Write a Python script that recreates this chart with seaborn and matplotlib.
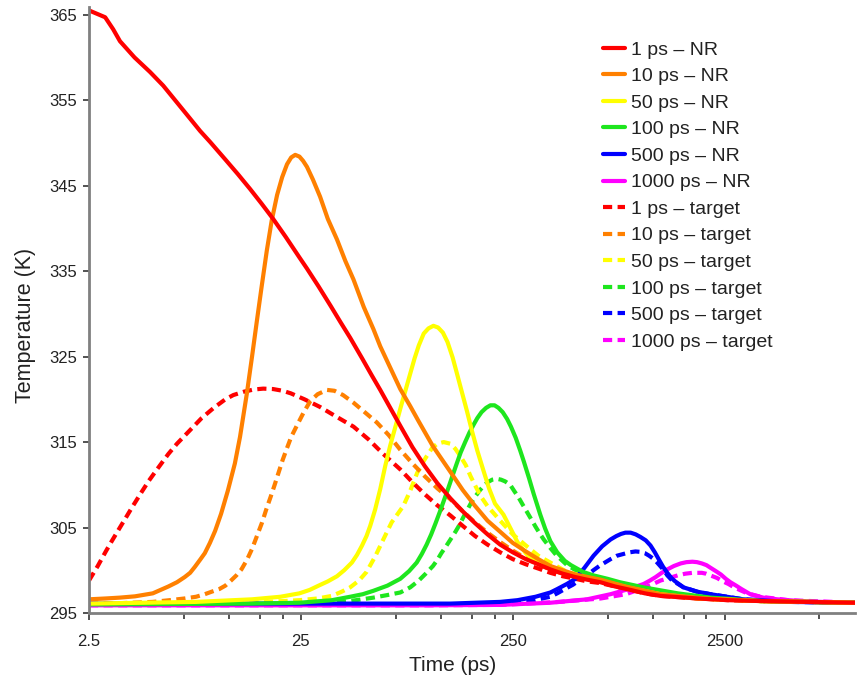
import matplotlib
matplotlib.use("Agg")
import matplotlib.pyplot as plt
from matplotlib.ticker import FixedLocator, NullFormatter
import seaborn as sns

# ---- pulse durations and series colours ----
pulses = ["1", "10", "50", "100", "500", "1000"]
colors = ["#ff0000", "#ff8000", "#ffff00", "#1ee61e", "#0000ff", "#ff00ff"]

# ---- NR temperature traces (time in ps, temperature in K) ----
t_nr_1 = [2.5, 2.98, 3.25, 3.5, 4.1, 4.85, 5.6, 6.37, 7.3, 8.36, 9.33, 10.96, 12.6, 14.4, 16.3, 18.5, 21.2,
          24.6, 26.7, 30.3, 34.6, 38.5, 42.7, 48.6, 54, 59.2, 66, 73.6, 84, 96, 110, 127, 145, 166, 190,
          218, 250, 288, 330, 376, 430, 494, 560, 648, 760, 899, 1050, 1245, 1870, 2600, 3690, 6000, 10300]
T_nr_1 = [365.5, 364.7, 363.3, 361.9, 360.0, 358.3, 356.7, 355.0, 353.2, 351.4, 350.1, 348.1, 346.35, 344.6,
          342.9, 341.1, 339.0, 336.6, 335.3, 333.2, 330.9, 329.0, 327.2, 324.8, 322.8, 321.1, 319.0, 316.9,
          314.4, 312.2, 310.2, 308.4, 306.9, 305.5, 304.2, 303.0, 302.1, 301.3, 300.7, 300.1, 299.6, 299.2,
          298.9, 298.6, 298.1, 297.7, 297.3, 297.0, 296.7, 296.5, 296.4, 296.3, 296.2]

t_nr_10 = [2.5, 3.0, 3.5, 4.12, 5.0, 5.92, 6.5, 7.07, 7.5, 7.9, 8.4, 8.8, 9.3, 9.84, 10.5, 11.3, 12.2, 12.9,
           13.9, 14.7, 15.5, 16.3, 17.26, 18.2, 19.3, 20.4, 21.5, 22.5, 23.5, 24.6, 25.6, 26.7, 28.5, 30.8,
           33.5, 37, 40.5, 44.3, 49.5, 55, 59.2, 66, 73.6, 82, 90, 105, 127, 145, 165, 190, 218, 250, 288,
           330, 376, 430, 494, 648, 850, 1245, 2000, 3690, 10300]
T_nr_10 = [296.6, 296.7, 296.8, 296.95, 297.3, 298.1, 298.6, 299.2, 299.7, 300.4, 301.3, 302.0, 303.2, 304.6,
           306.6, 309.3, 312.5, 315.6, 320.7, 325.0, 329.2, 333.1, 337.4, 340.9, 343.9, 346.0, 347.5, 348.3,
           348.6, 348.4, 347.9, 347.2, 345.7, 343.7, 341.1, 338.7, 336.2, 334.0, 330.8, 328.2, 326.2, 323.7,
           321.2, 319.2, 317.4, 314.5, 311.5, 309.4, 307.6, 305.8, 304.5, 303.2, 302.2, 301.3, 300.5, 300.0,
           299.5, 298.9, 298.1, 297.2, 296.7, 296.4, 296.2]

t_nr_50 = [2.5, 8, 14.7, 20, 24.6, 27.5, 30.3, 33.5, 37, 40, 43.5, 46, 48.6, 51, 53.1, 56, 59.2, 62.5, 66,
           70, 74, 78, 82, 86, 90, 95, 100, 105.5, 111, 117, 123, 130, 137, 145, 152, 160, 170, 181, 193,
           206, 226, 245, 263, 290, 330, 376, 430, 494, 560, 648, 899, 1245, 1870, 3690, 10300]
T_nr_50 = [296.1, 296.3, 296.6, 296.9, 297.3, 297.7, 298.2, 298.7, 299.3, 300.0, 300.9, 301.8, 302.9, 304.0,
           305.2, 307.1, 309.5, 312.2, 314.6, 316.9, 319.1, 321.1, 323.0, 324.8, 326.3, 327.7, 328.3, 328.6,
           328.4, 327.8, 326.7, 324.9, 322.8, 320.5, 318.6, 316.4, 314.0, 311.8, 309.6, 307.8, 306.5, 304.8,
           303.3, 301.9, 300.9, 300.2, 299.7, 299.3, 299.1, 298.8, 297.9, 297.2, 296.7, 296.4, 296.2]

t_nr_100 = [2.5, 14.7, 24.6, 35, 42.7, 49, 55, 64, 73.6, 81, 88, 93, 98, 103, 108, 113, 118, 124, 130,
            136, 142, 149, 156, 163, 170, 178, 187, 196, 205, 214, 224, 235, 245, 258, 271, 282, 298, 314,
            337, 355, 376, 405, 440, 470, 537, 601, 700, 800, 1035, 1500, 2140, 3690, 10300]
T_nr_100 = [296.0, 296.1, 296.2, 296.5, 296.9, 297.2, 297.6, 298.2, 299.0, 299.9, 300.9, 301.9, 303.0,
            304.2, 305.5, 306.8, 308.1, 309.6, 311.1, 312.5, 313.8, 315.0, 316.1, 317.0, 317.8, 318.5,
            319.0, 319.3, 319.3, 319.0, 318.5, 317.7, 316.8, 315.5, 314.0, 312.7, 310.8, 308.9, 306.5,
            304.9, 303.4, 302.1, 301.1, 300.6, 299.8, 299.4, 299.0, 298.6, 298.0, 297.3, 296.8, 296.4, 296.2]

t_nr_500 = [2.5, 50, 127, 218, 263, 320, 376, 405, 450, 494, 545, 601, 660, 723, 770, 810, 850, 899, 950,
            1000, 1060, 1116, 1170, 1220, 1280, 1340, 1400, 1460, 1598, 1850, 2140, 3060, 5000, 10300]
T_nr_500 = [296.1, 296.1, 296.1, 296.3, 296.5, 296.9, 297.4, 297.8, 298.4, 299.0, 300.3, 301.7, 302.8,
            303.6, 304.0, 304.25, 304.4, 304.4, 304.2, 303.9, 303.5, 302.9, 302.1, 301.3, 300.4, 299.7,
            299.1, 298.7, 298.0, 297.5, 297.2, 296.6, 296.3, 296.2]

t_nr_1000 = [2.5, 100, 218, 376, 560, 723, 880, 1037, 1110, 1180, 1260, 1340, 1440, 1550, 1650, 1760, 1850,
             1950, 2050, 2140, 2270, 2400, 2530, 2660, 2830, 3000, 3300, 3800, 4430, 6000, 10300]
T_nr_1000 = [295.9, 295.9, 295.95, 296.2, 296.6, 297.2, 297.8, 298.4, 298.8, 299.2, 299.7, 300.1, 300.5,
             300.8, 300.95, 301.0, 300.95, 300.8, 300.6, 300.3, 299.9, 299.5, 299.0, 298.6, 298.2, 297.8,
             297.2, 296.8, 296.6, 296.35, 296.2]

# ---- target temperature traces ----
t_tg_1 = [2.5, 2.75, 3.0, 3.2, 3.44, 3.7, 4.0, 4.44, 4.8, 5.2, 5.92, 6.5, 7.5, 8.5, 9.7, 11, 12, 13.5, 15,
          16.6, 18.5, 20.5, 22.4, 26, 30.8, 36, 44.3, 52.2, 61.2, 73.6, 84, 96, 110, 127, 145, 166, 190,
          218, 250, 288, 330, 376, 430, 494, 560, 648, 760, 899, 1050, 1245, 1870, 2600, 3690, 6000, 10300]
T_tg_1 = [298.8, 300.5, 302.2, 303.4, 304.7, 306.0, 307.4, 309.2, 310.5, 311.7, 313.6, 314.8, 316.4, 317.8,
          319.0, 320.0, 320.5, 320.9, 321.15, 321.25, 321.2, 321.0, 320.7, 320.0, 319.1, 318.1, 316.8,
          315.3, 313.6, 311.8, 310.3, 308.9, 307.6, 306.4, 305.2, 304.0, 303.0, 302.1, 301.3, 300.7, 300.2,
          299.7, 299.3, 299.0, 298.7, 298.5, 298.1, 297.7, 297.3, 297.0, 296.7, 296.5, 296.4, 296.3, 296.2]

t_tg_10 = [2.5, 3.5, 5.0, 6.0, 7.07, 8.0, 8.8, 9.5, 10.3, 11.0, 11.7, 12.4, 13.1, 13.9, 14.7, 15.5, 16.4,
           17.2, 18.0, 18.8, 19.6, 20.5, 21.5, 22.5, 23.9, 25.8, 27.7, 30.0, 33.2, 36, 39.5, 44.3, 50, 57,
           65, 73.6, 84, 96, 110, 127, 145, 166, 190, 218, 250, 288, 330, 376, 430, 494, 560, 648, 899,
           1245, 1870, 3690, 10300]
T_tg_10 = [296.1, 296.15, 296.3, 296.5, 296.7, 296.9, 297.2, 297.5, 297.8, 298.2, 298.8, 299.4, 300.1,
           301.2, 302.5, 304.0, 305.6, 307.2, 308.6, 310.0, 311.4, 312.9, 314.3, 315.6, 316.9, 318.5, 319.8,
           320.6, 321.1, 321.0, 320.5, 319.6, 318.5, 317.3, 315.8, 314.1, 312.5, 311.0, 309.6, 308.3, 306.9,
           305.6, 304.4, 303.3, 302.3, 301.4, 300.7, 300.1, 299.6, 299.3, 299.0, 298.7, 297.9, 297.1, 296.7,
           296.4, 296.2]

t_tg_50 = [2.5, 14.7, 24.6, 30, 35, 39, 42.7, 47, 51, 56, 61.2, 67, 76, 82, 88.5, 94, 98.4, 104, 110, 118,
           127, 134, 141, 150, 158, 167, 176, 190, 218, 250, 288, 330, 376, 451, 560, 648, 899, 1245, 1870,
           3690, 10300]
T_tg_50 = [296.0, 296.2, 296.5, 296.7, 297.0, 297.5, 298.0, 298.8, 299.8, 301.6, 303.6, 305.6, 307.5,
           309.3, 311.4, 312.6, 313.4, 314.3, 314.8, 315.0, 314.8, 314.2, 313.4, 312.3, 311.0, 309.8,
           308.7, 307.5, 305.8, 304.2, 302.9, 301.7, 300.9, 299.8, 299.2, 298.8, 297.9, 297.1, 296.7,
           296.4, 296.2]

t_tg_100 = [2.5, 30, 42.7, 55, 64, 73.6, 82, 90, 97, 105, 110, 115, 121, 127, 134, 140, 146, 152, 159, 166,
            174, 181, 190, 200, 210, 220, 230, 243, 255, 265, 278, 292, 305, 320, 335, 350, 376, 400, 451,
            520, 648, 899, 1245, 2140, 3690, 10300]
T_tg_100 = [296.0, 296.1, 296.4, 296.8, 297.1, 297.4, 298.0, 298.8, 299.6, 300.5, 301.2, 302.0, 302.8,
            303.6, 304.5, 305.3, 306.2, 307.0, 307.9, 308.6, 309.3, 309.8, 310.3, 310.6, 310.7, 310.6,
            310.4, 310.0, 309.2, 308.6, 307.7, 306.8, 306.0, 305.1, 304.3, 303.6, 302.6, 301.8, 300.6,
            299.7, 298.7, 297.8, 297.2, 296.7, 296.4, 296.2]

t_tg_500 = [2.5, 100, 218, 300, 376, 405, 440, 480, 520, 560, 600, 640, 680, 723, 775, 830, 890, 948, 1000,
            1050, 1100, 1158, 1200, 1250, 1300, 1340, 1400, 1460, 1598, 1850, 2140, 3060, 5000, 10300]
T_tg_500 = [296.0, 296.0, 296.1, 296.4, 296.9, 297.3, 297.8, 298.3, 298.9, 299.4, 300.0, 300.5, 300.9,
            301.3, 301.7, 301.9, 302.1, 302.2, 302.15, 302.0, 301.7, 301.3, 300.9, 300.4, 299.9, 299.4,
            298.9, 298.6, 298.0, 297.5, 297.2, 296.6, 296.3, 296.2]

t_tg_1000 = [2.5, 100, 218, 416, 650, 855, 950, 1050, 1150, 1245, 1370, 1500, 1630, 1760, 1850, 1950, 2040,
             2140, 2300, 2450, 2600, 2770, 3000, 3200, 3690, 5000, 10300]
T_tg_1000 = [295.9, 295.9, 295.95, 296.3, 296.7, 297.2, 297.6, 298.0, 298.4, 298.8, 299.1, 299.4, 299.6,
             299.7, 299.7, 299.7, 299.6, 299.4, 299.1, 298.7, 298.4, 298.0, 297.6, 297.3, 296.9, 296.5,
             296.2]

# ---- axis ticks ----
x_major = [2.5, 25, 250, 2500]
x_major_labels = ["2.5", "25", "250", "2500"]
y_major = [295, 305, 315, 325, 335, 345, 355, 365]

nr_series = [(t_nr_1, T_nr_1), (t_nr_10, T_nr_10), (t_nr_50, T_nr_50),
             (t_nr_100, T_nr_100), (t_nr_500, T_nr_500), (t_nr_1000, T_nr_1000)]
tg_series = [(t_tg_1, T_tg_1), (t_tg_10, T_tg_10), (t_tg_50, T_tg_50),
             (t_tg_100, T_tg_100), (t_tg_500, T_tg_500), (t_tg_1000, T_tg_1000)]

sns.set_style("white")
plt.rcParams["font.family"] = ["Liberation Sans", "DejaVu Sans"]
text_color = "#222222"

fig = plt.figure(figsize=(8.57, 6.88), dpi=100)
ax = fig.add_axes([89 / 857, 75 / 688, 766 / 857, 606 / 688])

LW = 3.0
DASH = (0, (2.2, 1.3))

handles_nr, handles_tg = [None] * 6, [None] * 6

# target curves underneath, NR curves on top (1 ps drawn last)
for i in reversed(range(6)):
    t, T = tg_series[i]
    sns.lineplot(x=t, y=T, ax=ax, color=colors[i], linewidth=LW, linestyle=DASH,
                 estimator=None, sort=False, legend=False)
    handles_tg[i] = ax.lines[-1]
for i in reversed(range(6)):
    t, T = nr_series[i]
    sns.lineplot(x=t, y=T, ax=ax, color=colors[i], linewidth=LW, linestyle="-",
                 estimator=None, sort=False, legend=False)
    handles_nr[i] = ax.lines[-1]
for ln in ax.lines:
    ln.set_solid_joinstyle("round")
    ln.set_dash_joinstyle("round")

ax.set_xscale("log")
ax.set_xlim(2.5, 10300)
ax.set_ylim(295, 365.9)

ax.xaxis.set_major_locator(FixedLocator(x_major))
ax.set_xticklabels(x_major_labels)
minor = [b * m for b in x_major for m in (2.8, 4.6, 6.4, 8.2) if b * m < 10300]
ax.xaxis.set_minor_locator(FixedLocator(minor))
ax.xaxis.set_minor_formatter(NullFormatter())
ax.set_yticks(y_major)

for side in ("top", "right"):
    ax.spines[side].set_visible(False)
for side in ("left", "bottom"):
    ax.spines[side].set_color("#808080")
    ax.spines[side].set_linewidth(2.0)

ax.tick_params(axis="x", which="major", direction="out", length=5, width=1.3,
               color="#444444", labelsize=12, labelcolor=text_color, pad=10, bottom=True)
ax.tick_params(axis="x", which="minor", direction="out", length=4, width=1.3,
               color="#444444", bottom=True)
ax.tick_params(axis="y", which="major", direction="out", length=4.5, width=1.3,
               color="#444444", labelsize=12, labelcolor=text_color, pad=4, left=True)

ax.set_xlabel("Time (ps)", fontsize=15, color=text_color)
ax.set_ylabel("Temperature (K)", fontsize=15.5, color=text_color)
ax.xaxis.set_label_coords((453 - 89) / 766, (613 - 656) / 606)
ax.yaxis.set_label_coords((36 - 89) / 766, (613 - 325) / 606)

labels = [f"{p} ps \u2013 NR" for p in pulses] + [f"{p} ps \u2013 target" for p in pulses]
leg = ax.legend(handles_nr + handles_tg, labels, loc="upper left",
                bbox_to_anchor=((603 - 89) / 766, (613 - 41) / 606),
                frameon=False, fontsize=14, handlelength=1.15, handletextpad=0.28,
                labelspacing=0.46, borderpad=0, borderaxespad=0)
for txt in leg.get_texts():
    txt.set_color(text_color)

fig.savefig("out.png", dpi=100)
